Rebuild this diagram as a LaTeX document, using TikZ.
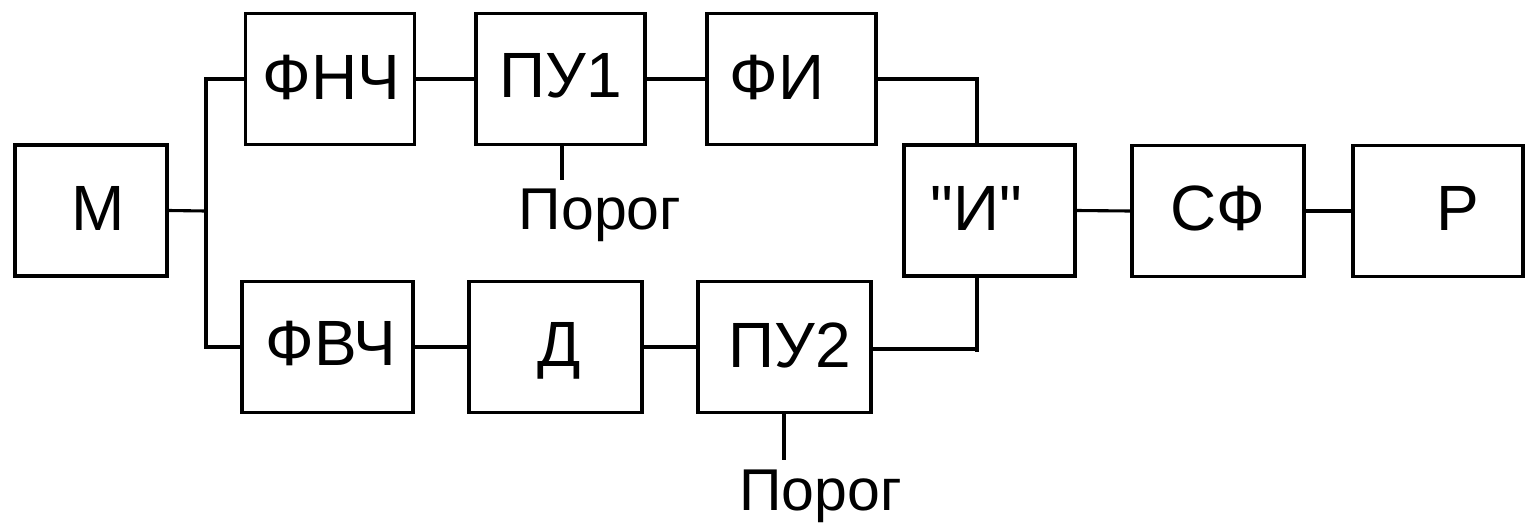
\documentclass[tikz,border=0pt]{standalone}
\usepackage{fontspec}
\setmainfont{Liberation Sans}[Ligatures=TeXOff]
\begin{document}
\begin{tikzpicture}[x=1pt,y=-1pt,
  blk/.style={draw, line width=3.3pt, inner sep=0pt, minimum width=#1, minimum height=131pt},
  blk/.default=169pt,
  lbl/.style={anchor=base, inner sep=0pt, font=\fontsize{64}{64}\selectfont},
  thr/.style={anchor=base, inner sep=0pt, font=\fontsize{59}{59}\selectfont},
  wire/.style={line width=3.1pt}]
\useasboundingbox (0,0) rectangle (1528,525);
% blocks
\node[blk=152pt] (m) at (91,210.5) {};
\node[blk] (fnch) at (330,79) {};
\node[blk] (pu1) at (560.5,79) {};
\node[blk] (fi) at (791.5,79) {};
\node[blk=171pt] (fvch) at (327.5,347) {};
\node[blk=173pt] (d) at (555.5,347) {};
\node[blk=173pt] (pu2) at (784.5,347) {};
\node[blk=171pt] (i) at (989.5,210.5) {};
\node[blk=172pt] (sf) at (1218,211) {};
\node[blk=170pt] (r) at (1438,211) {};
% labels
\node[lbl] (tm) at (98.5,230) {М};
\node[lbl] (tfnch) at (331.5,99) {ФНЧ};
\node[lbl] (tpu1) at (560.5,97) {ПУ1};
\node[lbl] (tfi) at (777,99) {ФИ};
\node[lbl] (tfvch) at (331,365) {ФВЧ};
\node[lbl] (td) at (559.5,366) {Д};
\node[lbl] (tpu2) at (789.5,367) {ПУ2};
\node[lbl] (ti) at (976.5,230) {"И"};
\node[lbl] (tsf) at (1217.5,230) {СФ};
\node[lbl] (tr) at (1457.5,230) {Р};
\node[thr] (por1) at (600,229) {Порог};
\node[thr] (por2) at (820.5,510) {Порог};
% coordinates
\coordinate (j) at (206,211);
\coordinate (ib) at (977,352);
\coordinate (t1) at (562,180);
\coordinate (t2) at (784,460);
% connectors
\draw[wire] (m.east) -- (j);
\draw[wire] (fnch.west) -| (j) |- (fvch.west);
\draw[wire] (fnch.east) -- (pu1.west);
\draw[wire] (pu1.east) -- (fi.west);
\draw[wire] (fi.east) -| ([xshift=-12.5pt]i.north);
\draw[wire] (fvch.east) -- (d.west);
\draw[wire] (d.east) -- (pu2.west);
\draw[wire] ([xshift=-12.5pt]i.south) -- (ib);
\draw[wire] ([yshift=-2pt]pu2.east) -- ([yshift=-2pt]pu2.east -| ib);
\draw[wire] (i.east) -- (sf.west);
\draw[wire] (sf.east) -- (r.west);
\draw[wire] (pu1.south -| t1) -- (t1);
\draw[wire] (pu2.south -| t2) -- (t2);
\end{tikzpicture}
\end{document}
